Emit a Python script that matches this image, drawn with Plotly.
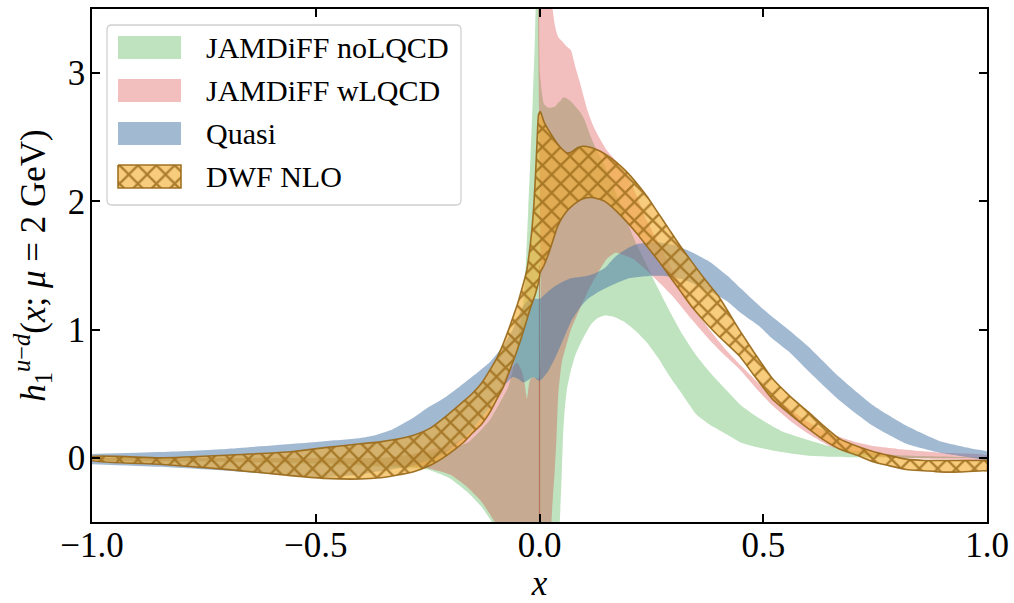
import plotly.graph_objects as go

# ---------------- data ----------------
# JAMDiFF noLQCD (green), x<0 and x>0 branches
green_x_neg = [-1.0, -0.8, -0.6, -0.45, -0.35, -0.3, -0.25, -0.2, -0.16, -0.13, -0.11, -0.09, -0.07,
               -0.06, -0.05, -0.045, -0.04, -0.035, -0.03, -0.025, -0.02, -0.015, -0.01, -0.005, -0.001]
green_lo_neg = [-0.02, -0.03, -0.04, -0.055, -0.07, -0.08, -0.09, -0.16, -0.27, -0.38, -0.48, -0.62, -0.8,
                -0.92, -1.05, -1.15, -1.25, -1.4, -1.55, -1.75, -2.0, -2.4, -3.0, -4.0, -6.0]
green_hi_neg = [0.0, 0.0, 0.0, 0.0, 0.0, 0.02, 0.04, 0.07, 0.12, 0.22, 0.3, 0.42, 0.55,
                0.68, 0.85, 1.0, 1.1, 1.25, 1.55, 1.95, 2.35, 2.8, 3.3, 4.2, 6.0]
green_x_pos = [0.001, 0.01, 0.02, 0.035, 0.042, 0.046, 0.05, 0.053, 0.057, 0.062, 0.07, 0.08, 0.09, 0.1,
               0.115, 0.13, 0.146, 0.165, 0.19, 0.215, 0.24, 0.265, 0.29, 0.32, 0.35, 0.38, 0.42, 0.45,
               0.49, 0.54, 0.6, 0.65, 0.7, 0.8, 0.9, 1.0]
green_lo_pos = [-6.0, -4.5, -3.0, -1.2, -0.7, -0.45, -0.1, 0.2, 0.4, 0.55, 0.68, 0.8, 0.88, 0.95,
                1.04, 1.09, 1.11, 1.1, 1.06, 0.99, 0.9, 0.78, 0.64, 0.49, 0.34, 0.26, 0.18, 0.12,
                0.08, 0.045, 0.016, 0.008, 0.004, 0.0, 0.0, 0.0]
green_hi_pos = [3.0, 2.76, 2.73, 2.74, 2.77, 2.78, 2.8, 2.81, 2.81, 2.8, 2.78, 2.74, 2.7, 2.64,
                2.5, 2.38, 2.28, 2.12, 1.89, 1.68, 1.5, 1.32, 1.15, 0.96, 0.8, 0.67, 0.52, 0.41,
                0.31, 0.21, 0.14, 0.09, 0.055, 0.02, 0.01, 0.0]

# JAMDiFF wLQCD (red)
red_x_neg = [-1.0, -0.8, -0.6, -0.45, -0.35, -0.3, -0.25, -0.2, -0.164, -0.13, -0.1, -0.09, -0.07,
             -0.05, -0.04, -0.034, -0.028, -0.022, -0.015, -0.008, -0.001]
red_lo_neg = [-0.02, -0.025, -0.035, -0.045, -0.06, -0.07, -0.08, -0.13, -0.22, -0.34, -0.5, -0.58, -0.8,
              -1.1, -1.35, -1.5, -1.7, -2.0, -2.5, -3.5, -6.0]
red_hi_neg = [0.0, 0.0, 0.0, 0.0, 0.0, 0.02, 0.06, 0.1, 0.17, 0.3, 0.45, 0.52, 0.68,
              0.74, 0.68, 0.6, 0.46, 0.6, 0.63, 0.62, 0.62]
red_x_pos = [0.001, 0.01, 0.02, 0.026, 0.03, 0.034, 0.038, 0.042, 0.05, 0.06, 0.07, 0.08, 0.09, 0.108,
             0.12, 0.13, 0.15, 0.17, 0.19, 0.21, 0.24, 0.27, 0.3, 0.34, 0.38, 0.42, 0.45, 0.49, 0.52,
             0.56, 0.6, 0.65, 0.7, 0.75, 0.8, 0.9, 1.0]
red_lo_pos = [-6.0, -4.0, -1.5, -0.55, -0.3, -0.1, 0.15, 0.5, 0.75, 0.88, 1.0, 1.08, 1.16, 1.3,
              1.38, 1.44, 1.55, 1.6, 1.58, 1.55, 1.46, 1.36, 1.25, 1.08, 0.92, 0.78, 0.68, 0.52, 0.41,
              0.29, 0.19, 0.09, 0.04, 0.015, 0.0, -0.01, -0.01]
red_hi_pos = [4.5, 4.5, 4.0, 3.6, 3.48, 3.38, 3.32, 3.28, 3.25, 3.21, 3.18, 3.05, 2.93, 2.7,
              2.59, 2.52, 2.4, 2.32, 2.23, 2.1, 1.85, 1.65, 1.45, 1.2, 1.0, 0.83, 0.72, 0.58, 0.48,
              0.38, 0.28, 0.19, 0.13, 0.09, 0.07, 0.04, 0.02]
red_edge_x = [0.0, 0.0]
red_edge_y = [-0.5, 1.5]

# Quasi (blue)
quasi_x = [-1.0, -0.85, -0.7, -0.55, -0.48, -0.4, -0.37, -0.33, -0.283, -0.25, -0.207, -0.155, -0.11,
           -0.084, -0.06, -0.045, -0.037, -0.028, -0.014, 0.0, 0.02, 0.035, 0.05, 0.07, 0.09, 0.108,
           0.125, 0.146, 0.17, 0.2, 0.22, 0.25, 0.27, 0.3, 0.33, 0.38, 0.42, 0.45, 0.49, 0.52, 0.56,
           0.6, 0.67, 0.745, 0.82, 0.895, 0.97, 1.0]
quasi_hi = [0.03, 0.045, 0.07, 0.11, 0.13, 0.155, 0.175, 0.22, 0.31, 0.39, 0.48, 0.62, 0.75,
            0.86, 1.0, 1.12, 1.18, 1.22, 1.24, 1.24, 1.3, 1.34, 1.37, 1.4, 1.41, 1.42,
            1.44, 1.48, 1.57, 1.64, 1.67, 1.68, 1.68, 1.66, 1.62, 1.53, 1.42, 1.32, 1.19, 1.1, 0.99,
            0.87, 0.63, 0.41, 0.25, 0.13, 0.07, 0.05]
quasi_lo = [-0.05, -0.07, -0.1, -0.14, -0.15, -0.13, -0.11, -0.09, -0.06, -0.02, 0.05, 0.2, 0.4,
            0.54, 0.63, 0.61, 0.59, 0.6, 0.63, 0.6, 0.68, 0.78, 0.9, 1.06, 1.17, 1.24,
            1.28, 1.32, 1.36, 1.4, 1.41, 1.42, 1.42, 1.41, 1.38, 1.3, 1.22, 1.13, 1.03, 0.93, 0.82,
            0.68, 0.45, 0.25, 0.11, 0.04, 0.0, -0.015]

# DWF NLO (hatched)
dwf_x = [-1.0, -0.85, -0.7, -0.55, -0.48, -0.4, -0.356, -0.32, -0.283, -0.245, -0.207, -0.17, -0.148,
         -0.13, -0.11, -0.095, -0.08, -0.069, -0.059, -0.05, -0.044, -0.036, -0.028, -0.021, -0.017,
         -0.013, -0.009, -0.005, -0.002,
         0.002, 0.01, 0.023, 0.04, 0.05, 0.06, 0.068, 0.086, 0.097, 0.115, 0.13, 0.146, 0.17, 0.195,
         0.22, 0.24, 0.265, 0.29, 0.315, 0.34, 0.37, 0.4, 0.448, 0.48, 0.52, 0.56, 0.6, 0.635, 0.67,
         0.71, 0.745, 0.78, 0.82, 0.86, 0.895, 0.94, 0.99, 1.0]
dwf_hi = [0.01, 0.0, 0.02, 0.05, 0.08, 0.11, 0.125, 0.145, 0.175, 0.23, 0.33, 0.44, 0.51,
          0.58, 0.69, 0.78, 0.9, 1.0, 1.1, 1.19, 1.26, 1.36, 1.47, 1.65, 1.78,
          1.95, 2.2, 2.5, 2.68,
          2.7, 2.62, 2.54, 2.45, 2.41, 2.38, 2.38, 2.42, 2.43, 2.42, 2.4, 2.37, 2.31, 2.23,
          2.13, 2.04, 1.91, 1.78, 1.65, 1.53, 1.39, 1.26, 0.99, 0.82, 0.62, 0.48, 0.36, 0.25, 0.15,
          0.09, 0.05, 0.02, -0.01, -0.02, -0.02, -0.02, -0.02, -0.02]
dwf_lo = [-0.02, -0.05, -0.09, -0.14, -0.16, -0.165, -0.155, -0.135, -0.11, -0.06, 0.02, 0.12, 0.2,
          0.26, 0.36, 0.46, 0.56, 0.66, 0.75, 0.84, 0.9, 0.99, 1.08, 1.16, 1.2,
          1.24, 1.28, 1.33, 1.37,
          1.45, 1.5, 1.62, 1.8, 1.87, 1.92, 1.95, 2.0, 2.02, 2.03, 2.02, 2.0, 1.93, 1.84,
          1.74, 1.65, 1.54, 1.42, 1.3, 1.18, 1.06, 0.95, 0.79, 0.64, 0.46, 0.34, 0.23, 0.14, 0.07,
          0.02, -0.03, -0.06, -0.09, -0.1, -0.11, -0.11, -0.1, -0.1]

x_tickvals = [-1.0, -0.5, 0.0, 0.5, 1.0]
x_ticktext = ["\u22121.0", "\u22120.5", "0.0", "0.5", "1.0"]
y_tickvals = [0, 1, 2, 3]
legend_labels = ["JAMDiFF noLQCD", "JAMDiFF wLQCD", "Quasi", "DWF NLO"]

# ---------------- styles ----------------
GREEN = "rgba(44,160,44,0.3)"
RED = "rgba(214,39,40,0.3)"
BLUE = "rgba(70,115,165,0.5)"
ORANGE = "rgba(242,172,45,0.62)"
HATCH = "rgb(160,112,30)"
EDGE = "rgba(155,108,28,0.95)"
FONT = "Liberation Serif, Times New Roman, serif"
SPLINE = dict(shape="spline", smoothing=0.5, width=0)

W, H = 1014, 603
L, R, T, B = 92, 27, 9, 81


def band(x, lo, hi):
    return list(x) + list(x)[::-1], list(hi) + list(lo)[::-1]


def split_band(xn, lon, hin, xp, lop, hip):
    xs = list(xn) + list(xp) + list(xp)[::-1] + list(xn)[::-1]
    ys = list(hin) + list(hip) + list(lop)[::-1] + list(lon)[::-1]
    return xs, ys


fig = go.Figure()

gx, gy = split_band(green_x_neg, green_lo_neg, green_hi_neg, green_x_pos, green_lo_pos, green_hi_pos)
fig.add_trace(go.Scatter(x=gx, y=gy, fill="toself", fillcolor=GREEN, line=SPLINE,
                         mode="lines", hoverinfo="skip", showlegend=False))
rx, ry = split_band(red_x_neg, red_lo_neg, red_hi_neg, red_x_pos, red_lo_pos, red_hi_pos)
fig.add_trace(go.Scatter(x=rx, y=ry, fill="toself", fillcolor=RED, line=SPLINE,
                         mode="lines", hoverinfo="skip", showlegend=False))
fig.add_trace(go.Scatter(x=red_edge_x, y=red_edge_y, mode="lines",
                         line=dict(color="rgba(175,80,55,0.6)", width=1.2),
                         hoverinfo="skip", showlegend=False))
qx, qy = band(quasi_x, quasi_lo, quasi_hi)
fig.add_trace(go.Scatter(x=qx, y=qy, fill="toself", fillcolor=BLUE, line=SPLINE,
                         mode="lines", hoverinfo="skip", showlegend=False))
dx, dy = band(dwf_x, dwf_lo, dwf_hi)
hatch = dict(shape="x", fgcolor=HATCH, bgcolor=ORANGE, size=13, solidity=0.32,
             fillmode="replace", fgopacity=0.85)
fig.add_trace(go.Scatter(x=dx + [dx[0]], y=dy + [dy[0]], fill="toself", fillcolor=ORANGE,
                         fillpattern=hatch,
                         line=dict(color=EDGE, width=1.6, shape="spline", smoothing=0.5),
                         mode="lines", hoverinfo="skip", showlegend=False))

# ---------------- custom legend on a pixel-coordinate overlay axis ----------------
box = dict(x0=107, x1=461, y0=25, y1=205, r=5)
patch_x0, patch_x1, patch_h = 118, 181, 23
row_y = [47.5, 90.5, 133.5, 176.5]
text_x = 204
leg_styles = [
    dict(fillcolor=GREEN, line=dict(width=0)),
    dict(fillcolor=RED, line=dict(width=0)),
    dict(fillcolor=BLUE, line=dict(width=0)),
    dict(fillcolor=ORANGE, fillpattern=hatch, line=dict(color=EDGE, width=1.6)),
]
for lab, yc, st in zip(legend_labels, row_y, leg_styles):
    y0, y1 = yc - patch_h / 2, yc + patch_h / 2
    fig.add_trace(go.Scatter(x=[patch_x0, patch_x1, patch_x1, patch_x0, patch_x0],
                             y=[y0, y0, y1, y1, y0], fill="toself", mode="lines",
                             xaxis="x2", yaxis="y2", hoverinfo="skip", showlegend=False, **st))
    fig.add_annotation(x=text_x, y=yc, xref="x2", yref="y2", text=lab, showarrow=False,
                       xanchor="left", yanchor="middle",
                       font=dict(family=FONT, size=30, color="black"))

r = box["r"]
path = (f"M {box['x0']+r},{box['y0']} L {box['x1']-r},{box['y0']} Q {box['x1']},{box['y0']} {box['x1']},{box['y0']+r} "
        f"L {box['x1']},{box['y1']-r} Q {box['x1']},{box['y1']} {box['x1']-r},{box['y1']} "
        f"L {box['x0']+r},{box['y1']} Q {box['x0']},{box['y1']} {box['x0']},{box['y1']-r} "
        f"L {box['x0']},{box['y0']+r} Q {box['x0']},{box['y0']} {box['x0']+r},{box['y0']} Z")
fig.add_shape(type="path", path=path, xref="x2", yref="y2", layer="below",
              line=dict(color="rgb(208,208,208)", width=1.3), fillcolor="rgba(255,255,255,0.8)")

axis_common = dict(showgrid=False, zeroline=False, showline=True, linecolor="black", linewidth=1.5,
                   mirror="allticks", ticks="inside", ticklen=8, tickwidth=1.5, tickcolor="black",
                   tickfont=dict(family=FONT, size=35, color="black"))
fig.update_layout(
    width=W, height=H, margin=dict(l=L, r=R, t=T, b=B, autoexpand=False),
    paper_bgcolor="white", plot_bgcolor="white", showlegend=False,
    xaxis=dict(range=[-1, 1], tickvals=x_tickvals, ticktext=x_ticktext, ticklabelstandoff=-9,
               title=dict(text="<i>x</i>", font=dict(family=FONT, size=35, color="black"), standoff=2),
               **axis_common),
    yaxis=dict(range=[-0.5, 3.5], tickvals=y_tickvals, ticklabelstandoff=-2,
               title=dict(text="<i>h</i><sub>1</sub><sup><i>u</i>\u2212<i>d</i></sup>(<i>x</i>; <i>\u03bc</i> = 2 GeV)",
                          font=dict(family=FONT, size=35, color="black"), standoff=12),
               **axis_common),
    xaxis2=dict(overlaying="x", range=[L, W - R], visible=False, fixedrange=True),
    yaxis2=dict(overlaying="y", range=[H - B, T], visible=False, fixedrange=True),
)

fig.write_html("out.html")
